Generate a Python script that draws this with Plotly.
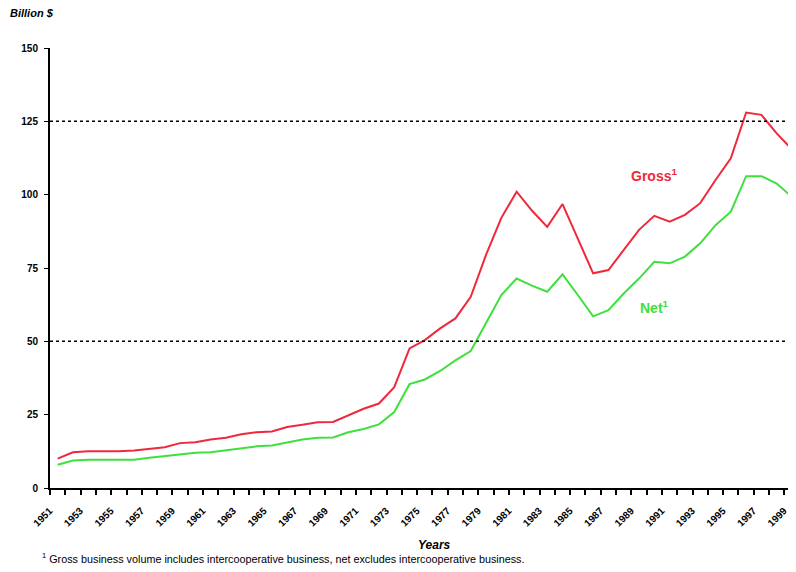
import plotly.graph_objects as go

# cooperative business volume, billion $
years = list(range(1951, 2000))
gross = [10.0, 12.2, 12.5, 12.5, 12.5, 12.8, 13.4, 13.9, 15.3, 15.6,
         16.5, 17.1, 18.3, 19.0, 19.3, 20.8, 21.6, 22.4, 22.5, 24.8,
         27.0, 28.8, 34.4, 47.6, 50.4, 54.4, 57.8, 65.2, 79.5, 92.1,
         101.0, 94.6, 89.0, 96.8, 85.1, 73.2, 74.3, 81.2, 88.0, 92.8,
         90.8, 93.1, 97.1, 105.0, 112.4, 128.0, 127.2, 120.9, 115.4]
net = [7.9, 9.4, 9.6, 9.6, 9.6, 9.6, 10.3, 10.8, 11.4, 12.0,
       12.2, 12.8, 13.4, 14.2, 14.5, 15.6, 16.5, 17.1, 17.2, 19.0,
       20.1, 21.7, 25.9, 35.4, 37.0, 39.9, 43.5, 46.7, 56.5, 65.8,
       71.4, 69.0, 66.9, 72.8, 65.8, 58.5, 60.6, 66.3, 71.4, 77.1,
       76.6, 78.9, 83.4, 89.6, 94.2, 106.3, 106.3, 103.8, 99.2]
label_years = years[::2]
y_ticks = [0, 25, 50, 75, 100, 125, 150]

red = "#f0283c"
green = "#3ee03e"
fnt = "Arial, Liberation Sans, sans-serif"

fig = go.Figure()
fig.add_trace(go.Scatter(x=years, y=gross, mode="lines", line=dict(color=red, width=2)))
fig.add_trace(go.Scatter(x=years, y=net, mode="lines", line=dict(color=green, width=2)))

# dotted reference lines
for yv in [50, 125]:
    fig.add_shape(type="line", xref="paper", x0=0, x1=1, yref="y", y0=yv, y1=yv,
                  line=dict(color="black", width=1.5, dash="dot"))

fig.update_xaxes(range=[1950.5, 1999.26], showgrid=False, zeroline=False,
                 showline=True, linecolor="black", linewidth=2,
                 tickvals=label_years, ticktext=[str(y) for y in label_years],
                 ticks="", tickangle=-45, automargin=False, ticklabeloverflow="allow",
                 ticklabelstandoff=11, ticklabelshift=-8,
                 tickfont=dict(family=fnt, size=10, color="black", weight="bold"),
                 minor=dict(tickvals=[y - 0.5 for y in years] + [years[-1] + 0.5],
                            ticks="outside", ticklen=5, tickcolor="black", tickwidth=1.5,
                            showgrid=False))
fig.update_yaxes(range=[0, 150], showgrid=False, zeroline=False,
                 showline=True, linecolor="black", linewidth=2, automargin=False,
                 tickvals=y_ticks, ticks="outside", ticklen=4, tickcolor="black",
                 ticklabelstandoff=4,
                 tickfont=dict(family=fnt, size=10, color="black", weight="bold"))

fig.add_annotation(x=1990, y=106.8, text="Gross<sup>1</sup>", showarrow=False,
                   font=dict(family=fnt, size=14, color=red, weight="bold"))
fig.add_annotation(x=1990, y=61.7, text="Net<sup>1</sup>", showarrow=False,
                   font=dict(family=fnt, size=14, color=green, weight="bold"))
fig.add_annotation(xref="paper", yref="paper", x=-0.056, y=1.061, xanchor="left", yanchor="bottom",
                   text="<b><i>Billion $</i></b>", showarrow=False,
                   font=dict(family=fnt, size=11, color="black"))
fig.add_annotation(xref="paper", yref="paper", x=0.516, y=-0.1295, xanchor="center", yanchor="middle",
                   text="<b><i>Years</i></b>", showarrow=False,
                   font=dict(family=fnt, size=12, color="black"))
fig.add_annotation(xref="paper", yref="paper", x=-0.0134, y=-0.159, xanchor="left", yanchor="middle",
                   text="<sup>1</sup> Gross business volume includes intercooperative business, net excludes intercooperative business.",
                   showarrow=False, font=dict(family=fnt, size=10.8, color="black"))

# page body has an 8px default margin, so offset the plot area to land where the reference has it
fig.update_layout(width=796, height=572, showlegend=False,
                  plot_bgcolor="white", paper_bgcolor="white",
                  margin=dict(l=42, r=8, t=40, b=92, autoexpand=False))

fig.write_html("out.html")
